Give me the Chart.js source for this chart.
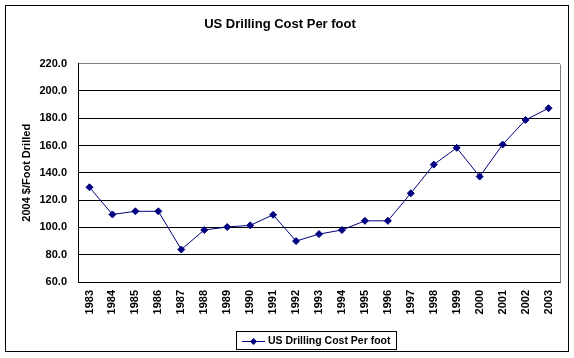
<!DOCTYPE html>
<html>
<head>
<meta charset="utf-8">
<script src="https://cdn.jsdelivr.net/npm/chart.js@4/dist/chart.umd.min.js"></script>
<style>
  html, body { margin: 0; padding: 0; background: #fff; }
  #wrap { width: 574px; height: 358px; }
</style>
</head>
<body>
<div id="wrap"><canvas id="c" width="574" height="358"></canvas></div>
<script>
const chartTitle = "US Drilling Cost Per foot";
const yAxisTitle = "2004 $/Foot Drilled";
const seriesLabel = "US Drilling Cost Per foot";
const years = ["1983","1984","1985","1986","1987","1988","1989","1990","1991","1992","1993",
               "1994","1995","1996","1997","1998","1999","2000","2001","2002","2003"];
const costPerFoot = [129.4, 109.5, 111.8, 111.8, 83.8, 98.1, 100.3, 101.5, 109.2, 90.0, 95.1,
                     98.1, 104.8, 104.8, 125.0, 146.0, 158.3, 137.2, 160.7, 178.7, 187.3];
const yMin = 60, yMax = 220, yStep = 20;

const LINE_COLOR = "#000080";
const FONT = "'Liberation Sans', Arial, sans-serif";

const framePlugin = {
  id: 'frame',
  afterDraw(chart) {
    const ctx = chart.ctx;
    const a = chart.chartArea;
    ctx.save();
    // outer border
    ctx.strokeStyle = '#000';
    ctx.lineWidth = 1;
    ctx.strokeRect(5.5, 5.5, 563, 346);
    // plot area right border (gray)
    ctx.strokeStyle = '#808080';
    ctx.beginPath();
    ctx.moveTo(Math.round(a.right) + 0.5, Math.round(a.top) + 0.5);
    ctx.lineTo(Math.round(a.right) + 0.5, Math.round(a.bottom) + 0.5);
    ctx.stroke();
    // legend box
    const ds = chart.data.datasets[0];
    const bx = 236.5, by = 331.5, bw = 160, bh = 18;
    ctx.strokeStyle = '#000';
    ctx.strokeRect(bx, by, bw, bh);
    const cy = by + bh / 2;
    ctx.strokeStyle = ds.borderColor;
    ctx.lineWidth = 1;
    ctx.beginPath();
    ctx.moveTo(242, Math.round(cy) + 0.5);
    ctx.lineTo(265, Math.round(cy) + 0.5);
    ctx.stroke();
    ctx.fillStyle = ds.pointBackgroundColor;
    ctx.beginPath();
    const px = 253.5, py = Math.round(cy) + 0.5, r = 3.5;
    ctx.moveTo(px, py - r); ctx.lineTo(px + r, py); ctx.lineTo(px, py + r); ctx.lineTo(px - r, py);
    ctx.closePath();
    ctx.fill();
    ctx.fillStyle = '#000';
    ctx.font = "bold 10.5px " + FONT;
    ctx.textAlign = 'left';
    ctx.textBaseline = 'middle';
    ctx.fillText(ds.label, 268, cy + 0.5);
    ctx.restore();
  }
};

new Chart(document.getElementById('c'), {
  type: 'line',
  data: {
    labels: years,
    datasets: [{
      label: seriesLabel,
      data: costPerFoot,
      borderColor: LINE_COLOR,
      backgroundColor: LINE_COLOR,
      pointBackgroundColor: LINE_COLOR,
      pointBorderColor: LINE_COLOR,
      borderWidth: 1,
      pointStyle: 'rectRot',
      pointRadius: 3.5,
      pointBorderWidth: 1,
      tension: 0,
      fill: false
    }]
  },
  options: {
    responsive: false,
    animation: false,
    devicePixelRatio: 1,
    layout: { padding: { left: 0, right: 14, top: 0, bottom: 0 } },
    plugins: {
      legend: { display: false },
      tooltip: { enabled: false },
      title: {
        display: true,
        text: chartTitle,
        color: '#000',
        font: { family: FONT, size: 13, weight: 'bold', lineHeight: 1.2 },
        padding: { top: 17, bottom: 31 }
      }
    },
    scales: {
      x: {
        type: 'category',
        offset: true,
        grid: { display: false, drawTicks: false },
        border: { display: true, color: '#000', width: 1 },
        ticks: {
          color: '#000',
          font: { family: FONT, size: 11, weight: 'bold' },
          minRotation: 90,
          maxRotation: 90,
          autoSkip: false,
          padding: 8
        },
        afterFit(scale) { scale.height = 76; }
      },
      y: {
        min: yMin,
        max: yMax,
        grid: {
          color: (c) => (c.tick && c.tick.value === yMax ? '#808080' : '#000'),
          lineWidth: 1,
          drawTicks: false
        },
        border: { display: true, color: '#000', width: 1 },
        ticks: {
          stepSize: yStep,
          color: '#000',
          font: { family: FONT, size: 11, weight: 'bold' },
          padding: 11,
          callback: (v) => Number(v).toFixed(1)
        },
        title: {
          display: true,
          text: yAxisTitle,
          color: '#000',
          font: { family: FONT, size: 11, weight: 'bold', lineHeight: 1.2 },
          padding: { top: 20, bottom: 0 }
        },
        afterFit(scale) { scale.width = 78; }
      }
    }
  },
  plugins: [framePlugin]
});
</script>
</body>
</html>
